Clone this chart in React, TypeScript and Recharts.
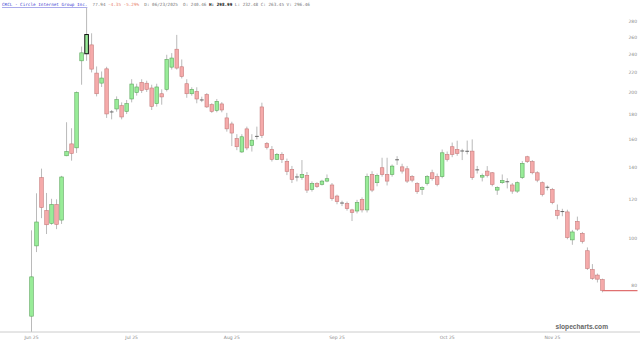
import React from "react";
import { ComposedChart, Bar, Line, XAxis, YAxis } from "recharts";

// trading days per month, Jun 5 (IPO) to Nov 17 2025
const junDays = [5, 6, 9, 10, 11, 12, 13, 16, 17, 18, 20, 23, 24, 25, 26, 27, 30];
const julDays = [1, 2, 3, 7, 8, 9, 10, 11, 14, 15, 16, 17, 18, 21, 22, 23, 24, 25, 28, 29, 30, 31];
const augDays = [1, 4, 5, 6, 7, 8, 11, 12, 13, 14, 15, 18, 19, 20, 21, 22, 25, 26, 27, 28, 29];
const sepDays = [2, 3, 4, 5, 8, 9, 10, 11, 12, 15, 16, 17, 18, 19, 22, 23, 24, 25, 26, 29, 30];
const octDays = [1, 2, 3, 6, 7, 8, 9, 10, 13, 14, 15, 16, 17, 20, 21, 22, 23, 24, 27, 28, 29, 30, 31];
const novDays = [3, 4, 5, 6, 7, 10, 11, 12, 13, 14, 17];

const opens = [
  69, 96.4, 133.4, 114.1, 107.3, 117.4, 109, 148, 156.6, 153.7, 232.5, 240.46, 250.8, 219.3, 209.1, 223.8, 182,
  184.9, 187.8, 182.8, 193.9, 200, 209.8, 209, 204.3, 189.6, 198.8, 203, 225.6, 245.7, 226, 208.5, 198.8, 201, 193, 197.9, 188.7, 183.7, 189.4,
  177.2, 172.2, 160.6, 150.7, 168.2, 155.4, 162, 186.7, 156.9, 152.5, 145.5, 148.9, 144.1, 138.7, 133.8, 133.4, 134.8, 126.1, 129.6, 129.2, 131.2,
  128.8, 122.2, 118.2, 117.9, 114.4, 113.8, 120.3, 114.4, 135.4, 130.2, 139.8, 135.4, 135.4, 145.2, 140.4, 139.1, 134, 129.6, 126.1, 129.8, 136.5,
  134, 134, 148.9, 154.5, 152.5, 151.4, 151, 151.3, 138.4, 133.7, 137.6, 136.5, 125.7, 130.2, 130.8, 128.8, 125.1, 133.4, 147.3, 143.9, 136.5, 130.2, 127.4,
  126.1, 114.2, 113.5, 113.3, 99.2, 108.3, 102.3, 94.2, 86.1, 83.9, 82.1,
];
const highs = [
  103.8, 123.8, 139.2, 124, 120.6, 120.3, 134.5, 173.6, 168.7, 201, 248.8, 298.99, 265, 226.3, 221, 226, 184,
  196.3, 190.8, 193, 213, 208.5, 213, 211.5, 207.5, 208.5, 203, 239.3, 241.2, 263, 234, 213, 205, 205, 196, 199.4, 190, 193.9, 191,
  181.5, 174, 164, 164, 170, 164, 170, 190.5, 158, 155, 150, 150.5, 146, 141, 136, 145, 137, 131, 130.5, 132, 135.4,
  130, 123, 119.5, 119, 115, 120, 121.4, 136, 137.5, 136, 146.6, 146.6, 142, 147.7, 142.5, 141, 135, 130.5, 128, 135, 138.5,
  136, 152.5, 151, 157.6, 159, 153, 159.1, 160, 141, 136, 140.9, 137, 128, 135.4, 133, 130, 131, 144.3, 148, 145, 137.5, 131, 128.5,
  127, 117.4, 115, 114.5, 104, 110.8, 103, 95.7, 88.4, 84.5, 82.5,
];
const lows = [
  64, 93.6, 110, 102, 106.6, 104.4, 107, 147.7, 144.6, 150, 207.5, 232.48, 220, 196.3, 205.3, 177.2, 176,
  182.5, 176, 180.5, 190.8, 197, 199.5, 200.5, 184, 187, 188.7, 201, 223, 223, 213.8, 195, 197, 190, 191, 185.8, 181.5, 182, 182,
  166, 155, 152, 150, 152, 151, 160, 161, 152.5, 144, 145, 143, 135, 130, 131, 132, 124, 124.8, 127, 128.5, 130.5,
  119.5, 117.5, 116.5, 114, 108.5, 112.5, 113, 113, 124.5, 128, 134, 128.5, 134, 141.7, 136, 130, 130.5, 123.5, 122.9, 128.5, 131.5,
  128, 133, 144, 147, 148, 145, 149, 132, 136, 131, 133.5, 128, 122.9, 129.5, 126.7, 123.5, 124, 132.5, 143, 135.5, 130.5, 122, 125.5,
  117.5, 109.4, 111, 99.5, 96.9, 103.5, 97.5, 86, 82, 81, 77.3,
];
const closes = [
  83.2, 108, 115.7, 106.6, 117.4, 106.8, 133.8, 151, 149.6, 200, 241.5, 263.45, 223.5, 198.8, 214.2, 180.6, 182.3,
  193.3, 178, 189.6, 208.2, 205.3, 202, 203, 187.2, 205.3, 195.8, 234, 235.6, 224.6, 215.8, 198.8, 203, 193.9, 192.5, 186.7, 182.8, 191.7, 184,
  168.2, 164.9, 154.5, 162, 153.6, 159.4, 162.3, 163, 154, 145.5, 149, 145.5, 137.4, 132.3, 133.5, 135.4, 125.7, 129.6, 127.8, 131.2, 132.7,
  120.7, 119, 117.9, 115.1, 113, 118.4, 114.4, 134, 125.7, 134.8, 135.4, 131.2, 140.9, 144.9, 137.6, 131.2, 131.8, 124.8, 127.2, 134, 132.7,
  129.2, 150.1, 145.5, 148.9, 149.6, 151.2, 151.2, 133.4, 138.2, 134.8, 134.8, 129.2, 127.2, 131.6, 130.6, 125.1, 130.2, 142.7, 143.9, 136.5, 131.8, 123.2, 127.2,
  118.4, 111.5, 113.3, 100.3, 103, 104.4, 98.5, 86.6, 82.6, 82.29, 77.94,
];

const yTicks = [80, 100, 120, 140, 160, 180, 200, 220, 240, 260, 280];
const monthTicks = ["2025-06-05", "2025-07-07", "2025-08-04", "2025-09-03", "2025-10-03", "2025-11-03"];
const monthLabels = ["Jun 25", "Jul 25", "Aug 25", "Sep 25", "Oct 25", "Nov 25"];
const selectedDate = "2025-06-23";
const padDays = 7;

const pad = (n: number) => (n < 10 ? "0" + n : "" + n);
const dates = [
  ...junDays.map((d) => "2025-06-" + pad(d)),
  ...julDays.map((d) => "2025-07-" + pad(d)),
  ...augDays.map((d) => "2025-08-" + pad(d)),
  ...sepDays.map((d) => "2025-09-" + pad(d)),
  ...octDays.map((d) => "2025-10-" + pad(d)),
  ...novDays.map((d) => "2025-11-" + pad(d)),
];
const lastClose = closes[closes.length - 1];

const data: any[] = dates.map((date, i) => ({
  date,
  open: opens[i],
  high: highs[i],
  low: lows[i],
  close: closes[i],
  range: [lows[i], highs[i]],
  last: i === dates.length - 1 ? lastClose : null,
}));
for (let k = 0; k < padDays; k++) data.push({ date: "pad" + k, last: lastClose });

const Candle = (props: any) => {
  const { x, y, width, height, payload } = props;
  if (!payload || payload.open == null || isNaN(y)) return null;
  const { open, close, high, low, date } = payload;
  const cx = x + width / 2;
  const lh = Math.log(high);
  const ll = Math.log(low);
  const py = (p: number) => (lh === ll ? y : y + ((lh - Math.log(p)) / (lh - ll)) * height);
  const top = py(Math.max(open, close));
  const bot = py(Math.min(open, close));
  const up = close >= open;
  const doji = bot - top < 1;
  const sel = date === selectedDate;
  const fill = up ? "#98ec98" : "#f5aaaa";
  const stroke = sel ? "#111" : doji ? "#555" : up ? "#5da65d" : "#c77b7b";
  return (
    <g>
      <line x1={cx} x2={cx} y1={y} y2={y + height} stroke="#a8a8a8" strokeWidth={0.8} />
      {doji ? (
        <line x1={cx - 1.9} x2={cx + 1.9} y1={top} y2={top} stroke={stroke} strokeWidth={0.9} />
      ) : (
        <rect x={cx - 1.8} y={top} width={3.6} height={bot - top} fill={fill} stroke={stroke} strokeWidth={sel ? 1 : 0.6} />
      )}
    </g>
  );
};

export default function App() {
  return (
    <div style={{ position: "absolute", left: 0, top: 0, width: 640, height: 345, background: "#fff" }}>
      <ComposedChart
        width={640}
        height={345}
        data={data}
        margin={{ top: 0, right: 0, left: 0, bottom: 0 }}
        barCategoryGap={0}
        barGap={0}
      >
        <XAxis
          dataKey="date"
          ticks={monthTicks}
          interval={0}
          tickFormatter={(v) => monthLabels[monthTicks.indexOf(v)] || ""}
          padding={{ left: 29, right: 0 }}
          height={13}
          tickLine={false}
          tickSize={0}
          tickMargin={4}
          axisLine={{ stroke: "#cccccc" }}
          tick={{ fontSize: 4.5, fill: "#8a8a8a", fontFamily: "DejaVu Sans" }}
        />
        <YAxis
          orientation="right"
          scale="log"
          domain={[64, 310.5]}
          allowDataOverflow
          ticks={yTicks}
          width={1}
          mirror
          axisLine={false}
          tickLine={false}
          tickSize={0}
          tickMargin={3}
          tick={{ fontSize: 4.5, fill: "#8a8a8a", fontFamily: "DejaVu Sans" }}
        />
        <Bar dataKey="range" shape={<Candle />} isAnimationActive={false} />
        <Line
          dataKey="last"
          stroke="#e07070"
          strokeWidth={1.2}
          dot={false}
          activeDot={false}
          isAnimationActive={false}
        />
      </ComposedChart>
      <svg width={640} height={345} style={{ position: "absolute", left: 0, top: 0, pointerEvents: "none" }}>
        <text x={2} y={6} fontSize={4.3} fontFamily="DejaVu Sans Mono" fill="#777" style={{ whiteSpace: "pre" }}>
          <tspan fill="#3b3bd0" textDecoration="underline">CRCL - Circle Internet Group Inc.</tspan>
          <tspan>{"  77.94 "}</tspan>
          <tspan fill="#e8826a">-4.35 -5.29%</tspan>
          <tspan>{"  D: 06/23/2025  O: 240.46 "}</tspan>
          <tspan fill="#111" fontWeight="bold">H: 298.99</tspan>
          <tspan>{" L: 232.48 C: 263.45 V: 296.46"}</tspan>
        </text>
        <text x={608} y={329} textAnchor="end" fontSize={6.6} fontWeight="bold" fontFamily="Liberation Sans" fill="#666">
          slopecharts.com
        </text>
      </svg>
    </div>
  );
}
